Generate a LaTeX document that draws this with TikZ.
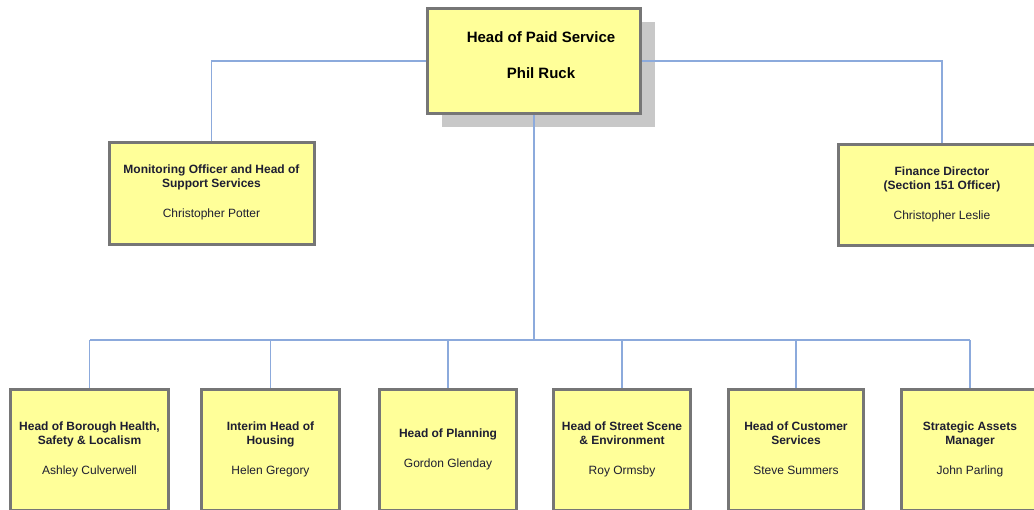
\documentclass[tikz,border=0pt]{standalone}
\usepackage{fontspec}
\setmainfont{Liberation Sans}
\usetikzlibrary{shadows}
\definecolor{boxfill}{RGB}{255,255,153}
\definecolor{boxedge}{RGB}{118,118,118}
\definecolor{connblue}{RGB}{140,170,220}
\definecolor{shadowgray}{RGB}{200,200,200}
\definecolor{txtdark}{RGB}{30,30,50}
\tikzset{
  orgbox/.style={draw=boxedge, line width=3pt, fill=boxfill, inner sep=0pt,
    align=center, text=txtdark, font=\fontsize{12}{14}\selectfont},
  topbox/.style={orgbox,
    drop shadow={shadow xshift=14pt, shadow yshift=-13pt, fill=shadowgray, opacity=1}},
  toplabel/.style={text=black, font=\fontsize{15}{18}\selectfont\bfseries, align=center},
  conn/.style={draw=connblue, line width=1.3pt}
}
\begin{document}
\begin{tikzpicture}[x=1pt,y=-1pt]
\clip (0,0) rectangle (1034,509);
\fill[white] (0,0) rectangle (1034,509);
\coordinate (busC) at (534,340);
\coordinate (busL) at (89.5,340);
\coordinate (busR) at (970,340);
\node[topbox, minimum width=213pt, minimum height=105pt] (top) at (534,61) {};
\node[toplabel] (toptext) at (541,58) {Head of Paid Service\\[18pt]Phil Ruck\strut};
\node[orgbox, minimum width=205pt, minimum height=102pt] (m1) at (211.5,193.5)
  {\textbf{Monitoring Officer and Head of}\\\textbf{Support Services}\\[16pt]Christopher Potter\strut};
\node[orgbox, minimum width=207pt, minimum height=101pt] (m2) at (942,195)
  {\textbf{Finance Director}\\\textbf{(Section 151 Officer)}\\[16pt]Christopher Leslie\strut};
\node[orgbox, minimum width=158pt, minimum height=121pt] (b1) at (89.5,450)
  {\textbf{Head of Borough Health,}\\\textbf{Safety \& Localism}\\[16pt]Ashley Culverwell\strut};
\node[orgbox, minimum width=138pt, minimum height=121pt] (b2) at (270.5,450)
  {\textbf{Interim Head of}\\\textbf{Housing}\\[16pt]Helen Gregory\strut};
\node[orgbox, minimum width=137pt, minimum height=121pt] (b3) at (448,450)
  {\textbf{Head of Planning}\\[16pt]Gordon Glenday\strut};
\node[orgbox, minimum width=137pt, minimum height=121pt] (b4) at (622,450)
  {\textbf{Head of Street Scene}\\\textbf{\& Environment}\\[16pt]Roy Ormsby\strut};
\node[orgbox, minimum width=135pt, minimum height=121pt] (b5) at (796,450)
  {\textbf{Head of Customer}\\\textbf{Services}\\[16pt]Steve Summers\strut};
\node[orgbox, minimum width=137pt, minimum height=121pt] (b6) at (970,450)
  {\textbf{Strategic Assets}\\\textbf{Manager}\\[16pt]John Parling\strut};
\draw[conn] (top.west) -| (m1.north);
\draw[conn] (top.east) -| (m2.north);
\draw[conn] (top.south) -- (busC);
\draw[conn] (busL) -- (busR);
\foreach \b in {b1,b2,b3,b4,b5,b6}{
  \draw[conn] (\b.north) -- (\b.north |- busC);
}
\end{tikzpicture}
\end{document}
